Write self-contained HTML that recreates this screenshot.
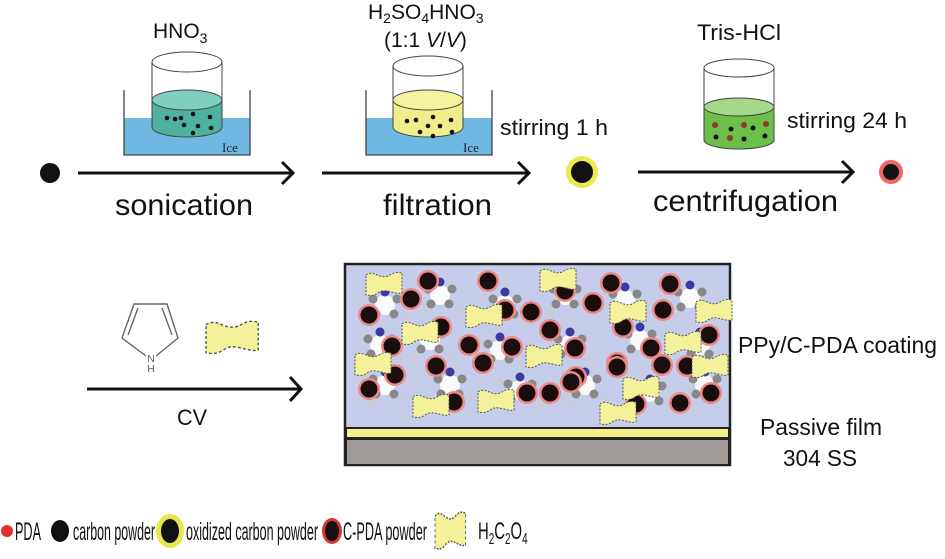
<!DOCTYPE html>
<html><head><meta charset="utf-8"><style>
html,body{margin:0;padding:0;background:#fff;}
svg{display:block;font-family:"Liberation Sans",Arial,sans-serif;}
</style></head><body>
<svg width="945" height="559" viewBox="0 0 945 559" xmlns="http://www.w3.org/2000/svg">
<defs>
<g id="cp"><circle r="11" fill="#e88" /><circle r="8.5" fill="#1a0d0d"/></g>
<g id="mol"><circle r="10" fill="#fafafa"/><circle cx="-12" cy="-6" r="4.5" fill="#888"/><circle cx="12" cy="-6" r="4.5" fill="#888"/><circle cx="-9" cy="9" r="4.5" fill="#888"/><circle cx="9" cy="9" r="4.5" fill="#888"/><circle cx="0" cy="-13" r="4.5" fill="#3a3aa0"/><circle cx="-20" cy="-10" r="2.5" fill="#ccc"/><circle cx="20" cy="14" r="2.5" fill="#ccc"/><circle cx="-14" cy="17" r="2.5" fill="#ccc"/></g>
<path id="wv" d="M0,2 C8,-4 14,8 24,2 C30,-2 34,0 36,0 L36,20 C28,22 20,14 12,20 C6,24 2,22 0,22 Z" fill="#f3f29a" stroke="#555" stroke-width="1" stroke-dasharray="2,1.5"/>
</defs>

<!-- top row -->
<circle cx="50" cy="173" r="10" fill="#111"/>
<g stroke="#111" stroke-width="3" fill="none">
<line x1="78" y1="173" x2="292" y2="173"/><polyline points="282,162 293,173 282,184"/>
<line x1="322" y1="173" x2="528" y2="173"/><polyline points="518,162 529,173 518,184"/>
<line x1="638" y1="172" x2="852" y2="172"/><polyline points="842,161 853,172 842,183"/>
<line x1="87" y1="389" x2="300" y2="389"/><polyline points="290,377 301,389 290,401"/>
</g>
<text x="115" y="215" font-size="30" textLength="138" lengthAdjust="spacingAndGlyphs" fill="#111">sonication</text>
<text x="383" y="215" font-size="30" textLength="109" lengthAdjust="spacingAndGlyphs" fill="#111">filtration</text>
<text x="653" y="211" font-size="30" textLength="185" lengthAdjust="spacingAndGlyphs" fill="#111">centrifugation</text>

<!-- beaker 1 -->
<rect x="124" y="118" width="126" height="37" fill="#6fb8e2"/>
<polyline points="124,90 124,155 250,155 250,90" fill="none" stroke="#444" stroke-width="1.3"/>
<path d="M152,100 L152,127 A35,10 0 0 0 222,127 L222,100 Z" fill="#4fb2a0" stroke="#444"/>
<ellipse cx="187" cy="100" rx="35" ry="10" fill="#7fcfbf" stroke="#444"/>
<line x1="152" y1="62" x2="152" y2="100" stroke="#444"/><line x1="222" y1="62" x2="222" y2="100" stroke="#444"/>
<ellipse cx="187" cy="62" rx="35" ry="10" fill="#fff" stroke="#444"/>
<g fill="#111"><circle cx="167" cy="118" r="2.3"/><circle cx="175" cy="119" r="2.3"/><circle cx="184" cy="125" r="2.3"/><circle cx="193" cy="114" r="2.3"/><circle cx="198" cy="126" r="2.3"/><circle cx="210" cy="117" r="2.3"/><circle cx="211" cy="128" r="2.3"/><circle cx="193" cy="133" r="2.3"/><circle cx="181" cy="118" r="2.3"/></g>
<text x="222" y="152" font-size="13" font-family="Liberation Serif,serif" fill="#222">Ice</text>
<text x="153" y="38" font-size="21" fill="#111">HNO<tspan font-size="14" dy="5">3</tspan></text>

<!-- beaker 2 -->
<rect x="366" y="118" width="126" height="37" fill="#6fb8e2"/>
<polyline points="366,90 366,155 492,155 492,90" fill="none" stroke="#444" stroke-width="1.3"/>
<path d="M393,100 L393,127 A35,10 0 0 0 463,127 L463,100 Z" fill="#f0ee8a" stroke="#444"/>
<ellipse cx="428" cy="100" rx="35" ry="10" fill="#f6f3a0" stroke="#444"/>
<line x1="393" y1="66" x2="393" y2="100" stroke="#444"/><line x1="463" y1="66" x2="463" y2="100" stroke="#444"/>
<ellipse cx="428" cy="66" rx="35" ry="10" fill="#fff" stroke="#444"/>
<g fill="#111"><circle cx="407" cy="121" r="2.3"/><circle cx="416" cy="120" r="2.3"/><circle cx="420" cy="132" r="2.3"/><circle cx="433" cy="117" r="2.3"/><circle cx="428" cy="126" r="2.3"/><circle cx="440" cy="126" r="2.3"/><circle cx="433" cy="136" r="2.3"/><circle cx="451" cy="120" r="2.3"/><circle cx="452" cy="132" r="2.3"/></g>
<text x="463" y="152" font-size="13" font-family="Liberation Serif,serif" fill="#222">Ice</text>
<text x="368" y="19" font-size="21" fill="#111">H<tspan font-size="14" dy="4">2</tspan><tspan dy="-4">SO</tspan><tspan font-size="14" dy="4">4</tspan><tspan dy="-4">HNO</tspan><tspan font-size="14" dy="4">3</tspan></text>
<text x="384" y="47" font-size="21" fill="#111">(1:1 <tspan font-style="italic">V</tspan>/<tspan font-style="italic">V</tspan>)</text>
<text x="500" y="135" font-size="22" textLength="108" lengthAdjust="spacingAndGlyphs" fill="#111">stirring 1 h</text>

<circle cx="582" cy="172" r="16" fill="#e8e83a" opacity="0.9"/>
<circle cx="582" cy="172" r="11" fill="#111"/>

<!-- beaker 3 -->
<path d="M704,107 L704,140 A35,9 0 0 0 774,140 L774,107 Z" fill="#6cc04a" stroke="#444"/>
<ellipse cx="739" cy="107" rx="35" ry="9" fill="#a6d88a" stroke="#444"/>
<line x1="704" y1="68" x2="704" y2="107" stroke="#444"/><line x1="774" y1="68" x2="774" y2="107" stroke="#444"/>
<ellipse cx="739" cy="68" rx="35" ry="9" fill="#fff" stroke="#444"/>
<g><circle cx="715" cy="125" r="3" fill="#8b3a2a"/><circle cx="731" cy="129" r="2.5" fill="#111"/><circle cx="744" cy="125" r="3" fill="#8b3a2a"/><circle cx="753" cy="128" r="2.5" fill="#111"/><circle cx="766" cy="124" r="3" fill="#8b3a2a"/><circle cx="716" cy="137" r="2.5" fill="#111"/><circle cx="730" cy="138" r="3" fill="#8b3a2a"/><circle cx="744" cy="139" r="2.5" fill="#111"/><circle cx="765" cy="136" r="2.5" fill="#111"/></g>
<text x="697" y="40" font-size="22" textLength="84" lengthAdjust="spacingAndGlyphs" fill="#111">Tris-HCl</text>
<text x="787" y="128" font-size="22" textLength="120" lengthAdjust="spacingAndGlyphs" fill="#111">stirring 24 h</text>
<circle cx="891" cy="172" r="12" fill="#e55" opacity="0.9"/>
<circle cx="891" cy="172" r="8" fill="#111"/>

<!-- bottom left -->
<g stroke="#666" stroke-width="1.4" fill="none">
<polyline points="146,356 122,338 134,304 167,304 178,338 156,356"/>
<line x1="128" y1="335" x2="138" y2="308"/><line x1="172" y1="335" x2="162" y2="308"/>
</g>
<text x="151" y="362" font-size="10" text-anchor="middle" fill="#555">N</text>
<text x="151" y="372" font-size="10" text-anchor="middle" fill="#555">H</text>
<use href="#wv" transform="translate(206,322) scale(1.45,1.4)"/>
<text x="177" y="425" font-size="22" textLength="30" lengthAdjust="spacingAndGlyphs" fill="#111">CV</text>

<!-- coating box -->
<rect x="345" y="264" width="385" height="201" fill="#c5cdea" stroke="#222" stroke-width="2.5"/>
<rect x="346" y="428" width="383" height="10" fill="#f4f08a" stroke="#222" stroke-width="2"/>
<rect x="346" y="439" width="383" height="26" fill="#a09a96" stroke="#222" stroke-width="2"/>
<g>
<use href="#mol" x="385" y="305"/><use href="#mol" x="440" y="295"/><use href="#mol" x="505" y="305"/><use href="#mol" x="565" y="295"/><use href="#mol" x="625" y="300"/><use href="#mol" x="690" y="298"/>
<use href="#mol" x="380" y="345"/><use href="#mol" x="430" y="340"/><use href="#mol" x="500" y="350"/><use href="#mol" x="570" y="345"/><use href="#mol" x="640" y="340"/><use href="#mol" x="700" y="345"/>
<use href="#mol" x="385" y="385"/><use href="#mol" x="450" y="385"/><use href="#mol" x="520" y="390"/><use href="#mol" x="585" y="385"/><use href="#mol" x="650" y="392"/><use href="#mol" x="705" y="385"/>
</g>
<g>
<use href="#cp" x="428" y="281"/><use href="#cp" x="488" y="281"/><use href="#cp" x="565" y="291"/><use href="#cp" x="611" y="283"/><use href="#cp" x="670" y="284"/>
<use href="#cp" x="411" y="299"/><use href="#cp" x="369" y="315"/><use href="#cp" x="505" y="310"/><use href="#cp" x="531" y="312"/><use href="#cp" x="593" y="303"/><use href="#cp" x="663" y="310"/><use href="#cp" x="709" y="335"/>
<use href="#cp" x="441" y="327"/><use href="#cp" x="550" y="330"/><use href="#cp" x="623" y="327"/><use href="#cp" x="392" y="346"/><use href="#cp" x="469" y="345"/><use href="#cp" x="512" y="347"/><use href="#cp" x="575" y="348"/><use href="#cp" x="651" y="348"/>
<use href="#cp" x="436" y="366"/><use href="#cp" x="483" y="363"/><use href="#cp" x="395" y="375"/><use href="#cp" x="576" y="377"/><use href="#cp" x="617" y="363"/><use href="#cp" x="662" y="365"/><use href="#cp" x="687" y="366"/>
<use href="#cp" x="369" y="389"/><use href="#cp" x="454" y="402"/><use href="#cp" x="527" y="393"/><use href="#cp" x="550" y="393"/><use href="#cp" x="617" y="367"/><use href="#cp" x="636" y="404"/><use href="#cp" x="680" y="403"/><use href="#cp" x="711" y="393"/><use href="#cp" x="571" y="382"/>
</g>
<g>
<use href="#wv" x="366" y="273"/><use href="#wv" x="540" y="269"/><use href="#wv" x="466" y="305"/><use href="#wv" x="610" y="301"/><use href="#wv" x="696" y="300"/>
<use href="#wv" x="402" y="322"/><use href="#wv" x="526" y="345"/><use href="#wv" x="665" y="332"/><use href="#wv" x="355" y="353"/><use href="#wv" x="692" y="355"/>
<use href="#wv" x="413" y="395"/><use href="#wv" x="478" y="390"/><use href="#wv" x="623" y="377"/><use href="#wv" x="600" y="402"/>
</g>
<text x="738" y="353" font-size="23" textLength="199" lengthAdjust="spacingAndGlyphs" fill="#111">PPy/C-PDA coating</text>
<text x="760" y="435" font-size="23" textLength="122" lengthAdjust="spacingAndGlyphs" fill="#111">Passive film</text>
<text x="783" y="466" font-size="23" textLength="74" lengthAdjust="spacingAndGlyphs" fill="#111">304 SS</text>

<!-- legend -->
<circle cx="7" cy="531" r="6" fill="#e53030"/>
<text x="15" y="540" font-size="25" textLength="26" lengthAdjust="spacingAndGlyphs" fill="#111">PDA</text>
<ellipse cx="60" cy="531" rx="9" ry="11" fill="#111"/>
<text x="73" y="540" font-size="25" textLength="82" lengthAdjust="spacingAndGlyphs" fill="#111">carbon powder</text>
<ellipse cx="170" cy="531" rx="14" ry="17" fill="#e6e84a"/>
<ellipse cx="170" cy="531" rx="9" ry="12" fill="#111"/>
<text x="186" y="540" font-size="25" textLength="132" lengthAdjust="spacingAndGlyphs" fill="#111">oxidized carbon powder</text>
<ellipse cx="332" cy="531" rx="10" ry="13" fill="#d33"/>
<ellipse cx="332" cy="531" rx="7" ry="10" fill="#111"/>
<text x="343" y="540" font-size="25" textLength="84" lengthAdjust="spacingAndGlyphs" fill="#111">C-PDA powder</text>
<use href="#wv" transform="translate(435,513) scale(0.85,1.6)"/>
<g transform="translate(478,539) scale(0.62,1)"><text x="0" y="0" font-size="24" fill="#111">H<tspan font-size="16" dy="5">2</tspan><tspan dy="-5">C</tspan><tspan font-size="16" dy="5">2</tspan><tspan dy="-5">O</tspan><tspan font-size="16" dy="5">4</tspan></text></g>
</svg>
</body></html>
